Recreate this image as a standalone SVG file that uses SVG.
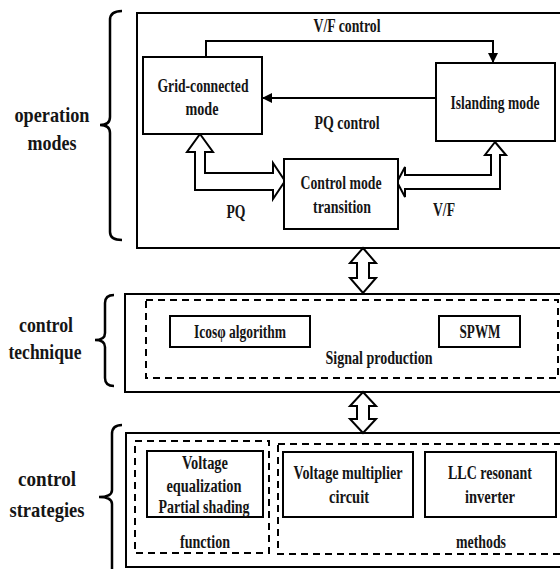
<svg xmlns="http://www.w3.org/2000/svg" width="560" height="569" viewBox="0 0 560 569">
<style>
text{font-family:"Liberation Serif","Times New Roman",serif;font-weight:bold;fill:#151515;text-anchor:middle}
.s{font-size:18px}
.l{font-size:21px}
.box{fill:#fff;stroke:#000;stroke-width:2}
.outer{fill:none;stroke:#000;stroke-width:2}
.dash{fill:none;stroke:#000;stroke-width:2;stroke-dasharray:7 5}
.line{fill:none;stroke:#000;stroke-width:2}
.hollow{fill:#fff;stroke:#000;stroke-width:2}
.brace{fill:none;stroke:#000;stroke-width:2.5}
</style>
<defs>
<marker id="ah" viewBox="0 0 10 10" refX="9" refY="5" markerWidth="5" markerHeight="5" orient="auto" markerUnits="strokeWidth">
<path d="M0,0 L10,5 L0,10 z" fill="#000"/>
</marker>
</defs>

<g id="labels-side">
<path class="brace" d="M122,11 Q110,11 110,20 L110,117 Q110,125 100,125 Q110,125 110,133 L110,232 Q110,240 122,240"/>
<text class="l" x="52" y="122" textLength="75" lengthAdjust="spacingAndGlyphs">operation</text>
<text class="l" x="52" y="150" textLength="49" lengthAdjust="spacingAndGlyphs">modes</text>
<path class="brace" d="M114,295 Q105,295 105,303 L105,333 Q105,340 95,340 Q105,340 105,347 L105,378 Q105,386 114,386"/>
<text class="l" x="46" y="332" textLength="54" lengthAdjust="spacingAndGlyphs">control</text>
<text class="l" x="45" y="359" textLength="73" lengthAdjust="spacingAndGlyphs">technique</text>
<path class="brace" d="M122,425 Q112,425 112,434 L112,490 Q112,497 99,497 Q112,497 112,504 L112,575"/>
<text class="l" x="47" y="486" textLength="58" lengthAdjust="spacingAndGlyphs">control</text>
<text class="l" x="47" y="517" textLength="75" lengthAdjust="spacingAndGlyphs">strategies</text>
</g>

<g id="operation-modes">
<rect class="outer" x="137" y="13" width="430" height="235"/>
</g>

<g id="connectors">
<polyline class="line" points="206,57 206,41 493,41 493,62" marker-end="url(#ah)"/>
<polyline class="line" points="436,98 263,98" marker-end="url(#ah)"/>
<text class="s" x="347" y="32" textLength="67" lengthAdjust="spacingAndGlyphs">V/F control</text>
<text class="s" x="347" y="129" textLength="65" lengthAdjust="spacingAndGlyphs">PQ control</text>
<path class="hollow" d="M200,134 L213,152 L205,152 L205,173 L273,173 L273,163 L285,181 L273,199 L273,190 L195,190 L195,152 L187,152 Z"/>
<path class="hollow" d="M495,142 L506,155 L500,155 L500,189 L405,189 L405,197 L397,182 L405,167 L405,175 L491,175 L491,155 L485,155 Z"/>
<text class="s" x="236" y="218" textLength="19" lengthAdjust="spacingAndGlyphs">PQ</text>
<text class="s" x="444" y="216" textLength="22" lengthAdjust="spacingAndGlyphs">V/F</text>
<path class="hollow" d="M363,248 L376,263 L369,263 L369,278 L376,278 L363,293 L350,278 L357,278 L357,263 L350,263 Z"/>
<path class="hollow" d="M363,392 L376,406 L369,406 L369,419 L376,419 L363,433 L350,419 L357,419 L357,406 L350,406 Z"/>
</g>

<g id="grid-connected">
<rect class="box" x="143" y="57" width="119" height="77"/>
<text class="s" x="203" y="92" textLength="91" lengthAdjust="spacingAndGlyphs">Grid-connected</text>
<text class="s" x="202" y="115" textLength="33" lengthAdjust="spacingAndGlyphs">mode</text>
</g>

<g id="islanding">
<rect class="box" x="436" y="63" width="119" height="78"/>
<text class="s" x="495" y="109" textLength="89" lengthAdjust="spacingAndGlyphs">Islanding mode</text>
</g>

<g id="control-mode-transition">
<rect class="box" x="284" y="159" width="114" height="70"/>
<text class="s" x="341" y="189" textLength="81" lengthAdjust="spacingAndGlyphs">Control mode</text>
<text class="s" x="342" y="213" textLength="58" lengthAdjust="spacingAndGlyphs">transition</text>
</g>

<g id="control-technique">
<rect class="outer" x="125" y="294" width="442" height="98"/>
<rect class="dash" x="146" y="300" width="412" height="78"/>
<text class="s" x="379" y="364" textLength="107" lengthAdjust="spacingAndGlyphs">Signal production</text>
</g>

<g id="icos">
<rect class="box" x="170" y="316" width="140" height="31"/>
<text class="s" x="240" y="338" textLength="92" lengthAdjust="spacingAndGlyphs">Icosφ algorithm</text>
</g>

<g id="spwm">
<rect class="box" x="439" y="316" width="81" height="31"/>
<text class="s" x="480" y="338" textLength="41" lengthAdjust="spacingAndGlyphs">SPWM</text>
</g>

<g id="control-strategies">
<rect class="outer" x="126" y="433" width="441" height="134"/>
<rect class="dash" x="135" y="441" width="134" height="112"/>
<text class="s" x="205" y="548" textLength="50" lengthAdjust="spacingAndGlyphs">function</text>
<rect class="dash" x="278" y="444" width="290" height="110"/>
<text class="s" x="481" y="548" textLength="50" lengthAdjust="spacingAndGlyphs">methods</text>
</g>

<g id="voltage-equalization">
<rect class="box" x="147" y="451" width="116" height="66"/>
<text class="s" x="205" y="469" textLength="46" lengthAdjust="spacingAndGlyphs">Voltage</text>
<text class="s" x="204" y="492" textLength="75" lengthAdjust="spacingAndGlyphs">equalization</text>
<text class="s" x="204" y="513" textLength="91" lengthAdjust="spacingAndGlyphs">Partial shading</text>
</g>

<g id="voltage-multiplier">
<rect class="box" x="283" y="452" width="130" height="65"/>
<text class="s" x="348" y="479" textLength="109" lengthAdjust="spacingAndGlyphs">Voltage multiplier</text>
<text class="s" x="349" y="503" textLength="40" lengthAdjust="spacingAndGlyphs">circuit</text>
</g>

<g id="llc">
<rect class="box" x="425" y="452" width="131" height="65"/>
<text class="s" x="490" y="479" textLength="84" lengthAdjust="spacingAndGlyphs">LLC resonant</text>
<text class="s" x="490" y="503" textLength="50" lengthAdjust="spacingAndGlyphs">inverter</text>
</g>
</svg>
